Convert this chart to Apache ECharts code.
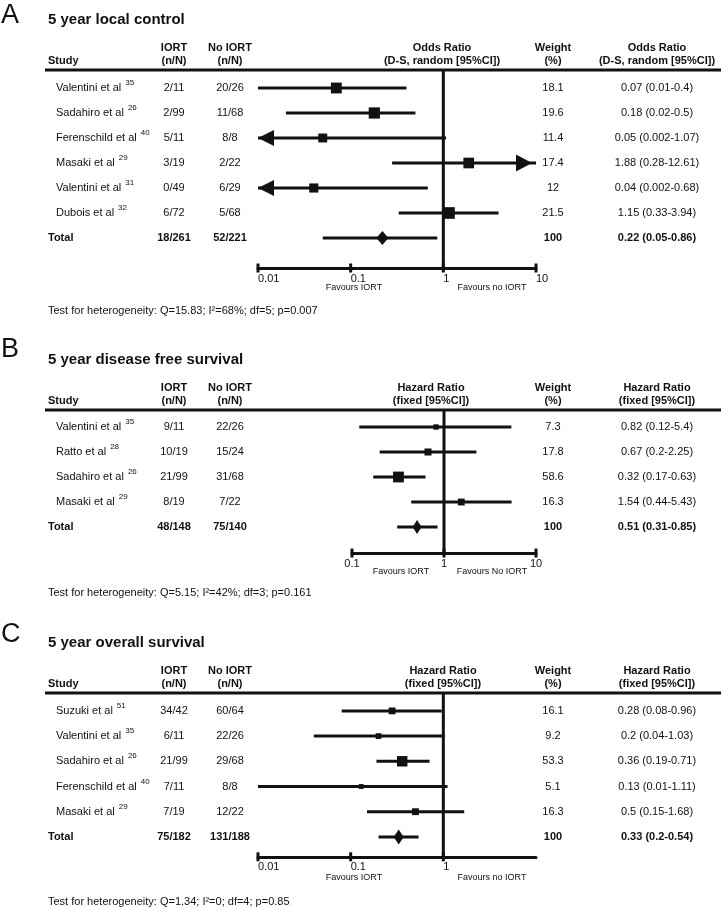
<!DOCTYPE html>
<html><head><meta charset="utf-8">
<script src="https://cdn.jsdelivr.net/npm/echarts@6/dist/echarts.min.js"></script>
<style>html,body{margin:0;padding:0;background:#fff}#c{width:721px;height:907px}</style>
</head><body><div id="c"></div>
<script>
// ---------------- Panel A: 5 year local control ----------------
const aTitle = '5 year local control';
const aStudies = ['Valentini et al', 'Sadahiro et al', 'Ferenschild et al', 'Masaki et al', 'Valentini et al', 'Dubois et al'];
const aRefs = ['35', '26', '40', '29', '31', '32'];
const aIort = ['2/11', '2/99', '5/11', '3/19', '0/49', '6/72'];
const aNoIort = ['20/26', '11/68', '8/8', '2/22', '6/29', '5/68'];
const aEst = [0.07, 0.18, 0.05, 1.88, 0.04, 1.15];
const aLo = [0.01, 0.02, 0.002, 0.28, 0.002, 0.33];
const aHi = [0.4, 0.5, 1.07, 12.61, 0.68, 3.94];
const aWeight = [18.1, 19.6, 11.4, 17.4, 12, 21.5];
const aTotalCounts = ['18/261', '52/221'];
const aTotalEffect = [0.22, 0.05, 0.86];
const aTotalWeight = 100;
const aEffectHead = ['Odds Ratio', '(D-S, random [95%CI])'];
const aTicks = [0.01, 0.1, 1, 10];
const aAxisRange = [0.01, 10];
const aFavours = ['Favours IORT', 'Favours no IORT'];
const aHet = 'Test for heterogeneity: Q=15.83; I\u00B2=68%; df=5; p=0.007';

// ---------------- Panel B: 5 year disease free survival ----------------
const bTitle = '5 year disease free survival';
const bStudies = ['Valentini et al', 'Ratto et al', 'Sadahiro et al', 'Masaki et al'];
const bRefs = ['35', '28', '26', '29'];
const bIort = ['9/11', '10/19', '21/99', '8/19'];
const bNoIort = ['22/26', '15/24', '31/68', '7/22'];
const bEst = [0.82, 0.67, 0.32, 1.54];
const bLo = [0.12, 0.2, 0.17, 0.44];
const bHi = [5.4, 2.25, 0.63, 5.43];
const bWeight = [7.3, 17.8, 58.6, 16.3];
const bTotalCounts = ['48/148', '75/140'];
const bTotalEffect = [0.51, 0.31, 0.85];
const bTotalWeight = 100;
const bEffectHead = ['Hazard Ratio', '(fixed [95%CI])'];
const bTicks = [0.1, 1, 10];
const bAxisRange = [0.1, 10];
const bFavours = ['Favours IORT', 'Favours No IORT'];
const bHet = 'Test for heterogeneity: Q=5.15; I\u00B2=42%; df=3; p=0.161';

// ---------------- Panel C: 5 year overall survival ----------------
const cTitle = '5 year overall survival';
const cStudies = ['Suzuki et al', 'Valentini et al', 'Sadahiro et al', 'Ferenschild et al', 'Masaki et al'];
const cRefs = ['51', '35', '26', '40', '29'];
const cIort = ['34/42', '6/11', '21/99', '7/11', '7/19'];
const cNoIort = ['60/64', '22/26', '29/68', '8/8', '12/22'];
const cEst = [0.28, 0.2, 0.36, 0.13, 0.5];
const cLo = [0.08, 0.04, 0.19, 0.01, 0.15];
const cHi = [0.96, 1.03, 0.71, 1.11, 1.68];
const cWeight = [16.1, 9.2, 53.3, 5.1, 16.3];
const cTotalCounts = ['75/182', '131/188'];
const cTotalEffect = [0.33, 0.2, 0.54];
const cTotalWeight = 100;
const cEffectHead = ['Hazard Ratio', '(fixed [95%CI])'];
const cTicks = [0.01, 0.1, 1];
const cAxisRange = [0.01, 10];
const cFavours = ['Favours IORT', 'Favours no IORT'];
const cHet = 'Test for heterogeneity: Q=1.34; I\u00B2=0; df=4; p=0.85';

// ---------------- styling / layout ----------------
const FONT = '"Liberation Sans", Arial, Helvetica, sans-serif';
const INK = '#111111';
const COL = { studyHead: 48, name: 56, iort: 174, noIort: 230, weight: 553, eff: 657, lineL: 45 };

const panels = [
  { letter: 'A', title: aTitle, studies: aStudies, refs: aRefs, iort: aIort, noIort: aNoIort, est: aEst, lo: aLo, hi: aHi,
    weight: aWeight, totalCounts: aTotalCounts, totalEffect: aTotalEffect, totalWeight: aTotalWeight, head: aEffectHead,
    ticks: aTicks, range: aAxisRange, favours: aFavours, het: aHet,
    L: { top: 70, left: 258, width: 278, step: 25, yMin: -0.72, yMax: 7.2, letterY: 16, hetY: 311, plotHeadX: 442,
         align: 'left', favX: [354, 492], favY: 288, sq: w => 1.5 + 2.2 * Math.sqrt(w), diamond: [12, 14] } },
  { letter: 'B', title: bTitle, studies: bStudies, refs: bRefs, iort: bIort, noIort: bNoIort, est: bEst, lo: bLo, hi: bHi,
    weight: bWeight, totalCounts: bTotalCounts, totalEffect: bTotalEffect, totalWeight: bTotalWeight, head: bEffectHead,
    ticks: bTicks, range: bAxisRange, favours: bFavours, het: bHet,
    L: { top: 410, left: 352, width: 184, step: 25, yMin: -0.68, yMax: 5.04, letterY: 350, hetY: 593, plotHeadX: 431,
         align: 'center', favX: [401, 492], favY: 572, sq: w => 2.4 + 1.1 * Math.sqrt(w), diamond: [9, 14] } },
  { letter: 'C', title: cTitle, studies: cStudies, refs: cRefs, iort: cIort, noIort: cNoIort, est: cEst, lo: cLo, hi: cHi,
    weight: cWeight, totalCounts: cTotalCounts, totalEffect: cTotalEffect, totalWeight: cTotalWeight, head: cEffectHead,
    ticks: cTicks, range: cAxisRange, favours: cFavours, het: cHet,
    L: { top: 693, left: 258, width: 278, step: 25.2, yMin: -0.71, yMax: 5.79, letterY: 635, hetY: 902, plotHeadX: 443,
         align: 'left', favX: [354, 492], favY: 878, sq: w => 2.4 + 1.1 * Math.sqrt(w), diamond: [10, 15] } }
];

function ciRender(params, api) {
  const lo = api.value(1), hi = api.value(2), row = api.value(3);
  const cs = params.coordSys;
  const xmin = cs.x, xmax = cs.x + cs.width;
  const p1 = api.coord([lo, row]), p2 = api.coord([hi, row]);
  const y = p1[1];
  let x1 = p1[0], x2 = p2[0];
  const la = x1 < xmin - 0.5, ra = x2 > xmax + 0.5;
  x1 = Math.max(x1, xmin); x2 = Math.min(x2, xmax);
  const ch = [{ type: 'line', shape: { x1: x1, y1: y, x2: x2, y2: y }, style: { stroke: INK, lineWidth: 3 } }];
  if (la) ch.push({ type: 'polygon', shape: { points: [[xmin, y], [xmin + 16, y - 8], [xmin + 16, y + 8]] }, style: { fill: INK } });
  if (ra) ch.push({ type: 'polygon', shape: { points: [[xmax - 4, y], [xmax - 20, y - 8.5], [xmax - 20, y + 8.5]] }, style: { fill: INK } });
  return { type: 'group', children: ch };
}

const grids = [], xAxes = [], yAxes = [], series = [];
panels.forEach((P, i) => {
  const L = P.L;
  const n = P.studies.length;
  grids.push({ left: L.left, top: L.top, width: L.width, height: (L.yMax - L.yMin) * L.step });
  const ticks = P.ticks;
  xAxes.push({
    type: 'log', logBase: 10, gridIndex: i, min: P.range[0], max: P.range[1], position: 'bottom',
    axisLine: { show: true, onZero: false, lineStyle: { color: INK, width: 3 } },
    axisTick: { show: false }, splitLine: { show: false },
    axisLabel: {
      color: INK, fontFamily: FONT, fontSize: 11, margin: 5, align: L.align,
      showMinLabel: true, showMaxLabel: true,
      formatter: v => { const r = +(+v).toPrecision(2); return ticks.some(t => Math.abs(t - r) < 1e-9) ? String(r) : ''; }
    }
  });
  yAxes.push({ type: 'value', gridIndex: i, min: L.yMin, max: L.yMax, inverse: true, show: false });

  // reference line at 1
  series.push({ type: 'line', xAxisIndex: i, yAxisIndex: i, data: [[1, L.yMin], [1, L.yMax]], symbol: 'none',
    lineStyle: { color: INK, width: 3 }, silent: true, z: 2, clip: false, animation: false });
  // CI lines (studies + total)
  const ciData = P.est.map((e, k) => [e, P.lo[k], P.hi[k], k]);
  ciData.push([P.totalEffect[0], P.totalEffect[1], P.totalEffect[2], n]);
  series.push({ type: 'custom', xAxisIndex: i, yAxisIndex: i, renderItem: ciRender, data: ciData,
    encode: { x: [0, 1, 2], y: 3 }, z: 3, animation: false, silent: true });
  // study squares
  series.push({ type: 'scatter', xAxisIndex: i, yAxisIndex: i, symbol: 'rect',
    data: P.est.map((e, k) => [e, k, P.weight[k]]),
    symbolSize: v => L.sq(v[2]), itemStyle: { color: INK, opacity: 1 }, z: 4, animation: false, silent: true });
  // total diamond
  series.push({ type: 'scatter', xAxisIndex: i, yAxisIndex: i, symbol: 'diamond', symbolSize: L.diamond,
    data: [[P.totalEffect[0], n]], itemStyle: { color: INK, opacity: 1 }, z: 4, animation: false, silent: true });
  // axis tick marks
  series.push({ type: 'scatter', xAxisIndex: i, yAxisIndex: i, symbol: 'rect', symbolSize: [3, 9], clip: false,
    data: ticks.map(t => [t, L.yMax]), itemStyle: { color: INK, opacity: 1 }, z: 5, animation: false, silent: true });
});

const chart = echarts.init(document.getElementById('c'), null, { renderer: 'canvas' });
chart.setOption({ backgroundColor: '#fff', animation: false, grid: grids, xAxis: xAxes, yAxis: yAxes, series: series });

// ---------- text table via graphic ----------
const mctx = document.createElement('canvas').getContext('2d');
function tw(txt, size, weight) { mctx.font = (weight || 'normal') + ' ' + size + 'px ' + FONT; return mctx.measureText(txt).width; }
function T(x, y, text, o) {
  o = o || {};
  return { type: 'text', x: x, y: y, silent: true, z: 10,
    style: { text: text, fill: INK, fontFamily: FONT, fontSize: o.size || 11, fontWeight: o.bold ? 'bold' : 'normal',
      align: o.align || 'left', verticalAlign: 'middle' } };
}
const g = [];
panels.forEach((P, i) => {
  const L = P.L;
  const n = P.studies.length;
  const rowY = r => chart.convertToPixel({ yAxisIndex: i }, r);
  const lineY = L.top;
  g.push(T(1, L.letterY, P.letter, { size: 27 }));
  g.push(T(COL.studyHead, lineY - 50, P.title, { size: 15, bold: true }));
  // header
  g.push(T(COL.studyHead, lineY - 9, 'Study', { bold: true }));
  g.push(T(COL.iort, lineY - 22, 'IORT', { bold: true, align: 'center' }));
  g.push(T(COL.iort, lineY - 9, '(n/N)', { bold: true, align: 'center' }));
  g.push(T(COL.noIort, lineY - 22, 'No IORT', { bold: true, align: 'center' }));
  g.push(T(COL.noIort, lineY - 9, '(n/N)', { bold: true, align: 'center' }));
  g.push(T(L.plotHeadX, lineY - 22, P.head[0], { bold: true, align: 'center' }));
  g.push(T(L.plotHeadX, lineY - 9, P.head[1], { bold: true, align: 'center' }));
  g.push(T(COL.weight, lineY - 22, 'Weight', { bold: true, align: 'center' }));
  g.push(T(COL.weight, lineY - 9, '(%)', { bold: true, align: 'center' }));
  g.push(T(COL.eff, lineY - 22, P.head[0], { bold: true, align: 'center' }));
  g.push(T(COL.eff, lineY - 9, P.head[1], { bold: true, align: 'center' }));
  g.push({ type: 'rect', silent: true, z: 9, shape: { x: COL.lineL, y: lineY - 1.5, width: 721 - COL.lineL, height: 3 }, style: { fill: INK } });
  // rows
  P.studies.forEach((s, k) => {
    const y = rowY(k);
    g.push(T(COL.name, y, s));
    g.push(T(COL.name + tw(s, 11) + 4, y - 5, P.refs[k], { size: 8 }));
    g.push(T(COL.iort, y, P.iort[k], { align: 'center' }));
    g.push(T(COL.noIort, y, P.noIort[k], { align: 'center' }));
    g.push(T(COL.weight, y, String(P.weight[k]), { align: 'center' }));
    g.push(T(COL.eff, y, P.est[k] + ' (' + P.lo[k] + '-' + P.hi[k] + ')', { align: 'center' }));
  });
  const yt = rowY(n);
  g.push(T(COL.studyHead, yt, 'Total', { bold: true }));
  g.push(T(COL.iort, yt, P.totalCounts[0], { bold: true, align: 'center' }));
  g.push(T(COL.noIort, yt, P.totalCounts[1], { bold: true, align: 'center' }));
  g.push(T(COL.weight, yt, String(P.totalWeight), { bold: true, align: 'center' }));
  g.push(T(COL.eff, yt, P.totalEffect[0] + ' (' + P.totalEffect[1] + '-' + P.totalEffect[2] + ')', { bold: true, align: 'center' }));
  // favours labels + heterogeneity
  g.push(T(L.favX[0], L.favY, P.favours[0], { size: 9, align: 'center' }));
  g.push(T(L.favX[1], L.favY, P.favours[1], { size: 9, align: 'center' }));
  g.push(T(COL.studyHead, L.hetY, P.het, { size: 11 }));
});
chart.setOption({ graphic: g });
</script>
</body></html>
